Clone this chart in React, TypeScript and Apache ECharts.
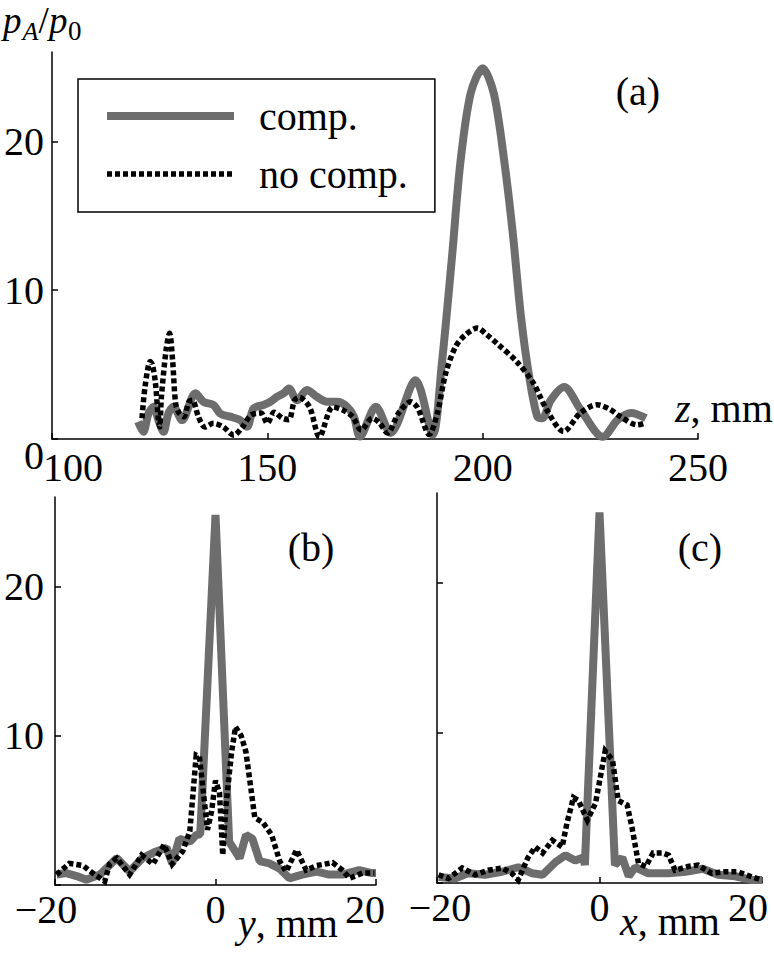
import React, { useEffect, useRef } from "react";
import * as echarts from "echarts";

const FONT = "'Liberation Serif', 'Times New Roman', serif";
const GRAY = "#6d6d6d";
const BLACK = "#000000";

// ---- panel (a): p_A/p0 along z, mm
const aCompZ = [120.0, 121.2, 122.4, 123.6, 124.7, 125.9, 127.0, 128.2, 130.2, 133.3, 135.2, 137.5, 139.1, 141.4, 143.7, 145.3, 146.8, 149.1, 150.7, 152.3, 153.8, 155.0, 156.9, 159.2, 161.5, 163.9, 166.2, 168.5, 170.1, 171.5, 175.2, 178.6, 184.4, 188.4, 190.5, 192.9, 194.8, 197.2, 200.0, 202.6, 205.0, 207.0, 208.9, 210.8, 212.7, 213.9, 215.8, 218.9, 222.8, 227.9, 231.4, 234.5, 237.9];
const aCompP = [1.16, 0.49, 1.7, 2.17, 1.27, 0.49, 1.7, 2.17, 1.27, 3.07, 2.5, 2.28, 1.7, 1.5, 1.27, 0.82, 2.06, 2.28, 2.5, 2.84, 3.07, 3.4, 2.6, 3.3, 2.84, 2.5, 2.5, 2.17, 1.5, 0.16, 2.17, 0.4, 3.95, 0.3, 5.0, 12.3, 18.5, 23.2, 24.9, 23.2, 18.7, 13.8, 8.2, 4.2, 1.5, 1.4, 2.6, 3.5, 1.95, 0.15, 1.3, 1.75, 1.4];
const aNoCompZ = [120.9, 121.6, 122.8, 123.3, 124.0, 124.7, 125.0, 125.4, 126.5, 127.3, 128.0, 128.7, 129.5, 130.6, 131.8, 132.6, 134.0, 135.5, 137.5, 139.8, 142.2, 144.2, 146.2, 148.5, 150.0, 151.6, 153.5, 155.0, 156.3, 157.4, 159.8, 162.1, 165.2, 167.5, 169.8, 171.8, 174.4, 176.0, 177.9, 180.5, 183.3, 184.9, 187.6, 189.5, 191.4, 193.7, 196.0, 198.8, 201.0, 203.4, 207.9, 211.8, 214.9, 218.8, 222.7, 226.6, 229.5, 232.0, 235.9, 237.4];
const aNoCompP = [1.4, 3.5, 5.2, 5.0, 3.8, 1.3, 0.8, 2.8, 6.0, 7.1, 5.3, 2.4, 1.75, 1.5, 2.5, 2.6, 1.5, 0.8, 1.05, 0.8, 0.25, 0.8, 1.6, 1.75, 1.05, 1.8, 1.4, 1.3, 2.6, 2.8, 2.15, 0.15, 2.15, 1.95, 1.5, 0.6, 1.4, 1.1, 0.4, 1.75, 2.5, 2.1, 0.3, 1.75, 4.4, 6.2, 7.0, 7.45, 7.0, 6.4, 5.2, 3.75, 1.95, 0.5, 1.75, 2.3, 2.0, 1.5, 0.95, 1.05];

// ---- panel (b): along y, mm
const bCompY = [-19.8, -18.6, -17.3, -16.1, -14.4, -12.3, -10.7, -9.1, -7.4, -6.1, -5.4, -4.5, -3.2, -2.4, -1.9, 0.0, 1.7, 3.0, 3.8, 4.6, 5.5, 6.7, 8.0, 9.2, 10.8, 12.6, 14.2, 15.8, 17.9, 19.5, 20.0];
const bCompP = [0.7, 0.8, 0.6, 0.35, 0.7, 1.8, 0.9, 1.8, 2.25, 2.5, 1.45, 3.1, 2.9, 3.35, 3.4, 24.8, 2.9, 1.8, 3.35, 3.1, 1.6, 1.45, 1.1, 0.45, 0.7, 0.9, 0.7, 0.7, 1.0, 0.8, 0.8];
const bNoCompY = [-19.8, -18.2, -16.5, -15.3, -13.8, -13.2, -12.3, -10.7, -9.2, -7.8, -6.4, -5.4, -4.1, -3.2, -2.4, -2.0, -1.0, -0.5, 0.0, 0.5, 0.9, 1.3, 2.0, 2.5, 3.2, 3.8, 4.9, 5.9, 7.0, 8.0, 8.8, 10.1, 11.3, 12.6, 14.6, 15.8, 16.7, 18.3, 19.8];
const bNoCompP = [0.7, 1.45, 1.3, 0.8, 0.25, 1.4, 1.8, 0.7, 2.0, 1.4, 2.7, 1.4, 2.25, 3.6, 8.7, 8.6, 3.7, 4.9, 7.0, 6.2, 2.0, 5.3, 8.9, 10.6, 10.0, 8.9, 4.5, 4.2, 3.35, 1.6, 0.9, 2.35, 1.0, 1.3, 1.5, 1.0, 0.45, 0.8, 0.8];

// ---- panel (c): along x, mm
const cCompX = [-19.8, -17.8, -16.2, -14.1, -12.0, -10.0, -8.3, -7.0, -5.4, -4.2, -3.0, -2.0, -1.8, 0.0, 1.9, 2.8, 3.6, 4.4, 6.0, 8.5, 10.6, 12.7, 14.6, 16.7, 18.8, 20.0];
const cCompP = [0.4, 0.3, 0.65, 0.55, 0.75, 1.05, 0.65, 0.55, 1.4, 1.85, 1.5, 1.7, 1.2, 24.7, 1.2, 1.7, 0.45, 1.05, 0.65, 0.65, 0.75, 0.95, 0.55, 0.45, 0.2, 0.2];
const cNoCompX = [-19.8, -18.6, -16.9, -15.3, -13.7, -12.0, -10.8, -10.0, -8.8, -7.9, -7.0, -5.8, -4.6, -4.0, -3.2, -2.6, -1.5, -0.5, 0.7, 1.6, 2.3, 3.4, 4.0, 4.8, 5.7, 6.6, 7.8, 8.5, 9.3, 10.9, 12.1, 13.8, 15.4, 17.0, 18.8, 20.0];
const cNoCompP = [0.55, 0.3, 1.0, 0.55, 0.85, 1.0, 0.65, 0.2, 1.7, 2.4, 2.0, 2.85, 2.4, 4.0, 5.7, 5.5, 4.2, 5.3, 8.8, 8.2, 5.5, 5.2, 3.7, 1.3, 1.1, 2.0, 2.0, 1.85, 0.85, 1.1, 1.2, 0.65, 0.75, 0.75, 0.4, 0.2];

// ---- tick values
const aXTicks = [100, 150, 200, 250];
const aYLabels = [0, 10, 20];
const bYLabels = [10, 20];
const yTicks = [0, 10, 20];
const bcXTicks = [-20, 0, 20];

const pairs = (xs: number[], ys: number[]) => xs.map((x, i) => [x, ys[i]]);
const fmt = (v: number) => (v < 0 ? "\u2212" + Math.abs(v) : String(v));

const axisLineStyle = { color: BLACK, width: 1.5 };
const labelBase = { fontFamily: FONT, fontSize: 40, color: BLACK };

function yAxisCfg(grid: number, labels: number[], margin: number) {
  return {
    type: "value",
    gridIndex: grid,
    min: 0,
    max: 26,
    interval: 10,
    axisLine: { show: true, onZero: false, lineStyle: axisLineStyle },
    axisTick: { show: true, inside: true, length: 6, lineStyle: axisLineStyle, customValues: yTicks },
    splitLine: { show: false },
    axisLabel: {
      show: labels.length > 0,
      ...labelBase,
      margin,
      customValues: labels.length ? labels : yTicks,
      formatter: (v: number) => (grid === 0 && v === 0 ? "{zero|0}" : String(v)),
      rich: { zero: { ...labelBase, padding: [32, 0, 0, 0] } },
    },
  };
}

function lineSeries(name: string, xi: number, data: number[][], join: string, smooth: number) {
  const comp = name === "comp.";
  return {
    name,
    type: "line",
    xAxisIndex: xi,
    yAxisIndex: xi,
    data,
    symbol: "none",
    showSymbol: false,
    smooth,
    clip: false,
    silent: true,
    z: comp ? 2 : 3,
    itemStyle: { color: comp ? GRAY : BLACK },
    lineStyle: comp
      ? { color: GRAY, width: 8, join, cap: "butt" }
      : { color: BLACK, width: 5.5, type: [5, 3], cap: "butt", join: "miter" },
    emphasis: { disabled: true },
  };
}

function text(x: number, y: number, t: string, align = "left", extra: any = {}) {
  return {
    type: "text",
    x,
    y,
    silent: true,
    style: {
      text: t,
      fontFamily: FONT,
      fontSize: 40,
      fill: BLACK,
      align,
      verticalAlign: "middle",
      ...extra,
    },
  };
}

export default function App() {
  const ref = useRef<HTMLDivElement>(null);

  useEffect(() => {
    if (!ref.current) return;
    const chart = echarts.init(ref.current, undefined, { renderer: "svg" });
    const italicRich = { i: { fontFamily: FONT, fontSize: 40, fontStyle: "italic", fill: BLACK } };
    const option: any = {
      animation: false,
      backgroundColor: "#ffffff",
      textStyle: { fontFamily: FONT },
      grid: [
        { left: 52, top: 52, width: 646, height: 387 },
        { left: 55, top: 497, width: 321, height: 388 },
        { left: 437, top: 493, width: 325, height: 390 },
      ],
      xAxis: [
        {
          type: "value",
          gridIndex: 0,
          min: 100,
          max: 250,
          interval: 50,
          axisLine: { show: true, onZero: false, lineStyle: axisLineStyle },
          axisTick: { show: true, inside: true, length: 6, lineStyle: axisLineStyle, customValues: aXTicks },
          splitLine: { show: false },
          axisLabel: {
            ...labelBase,
            margin: 8,
            customValues: aXTicks,
            formatter: (v: number) => (v === 100 ? "{first|100}" : String(v)),
            rich: { first: { ...labelBase, padding: [0, 0, 0, 42] } },
          },
        },
        {
          type: "value",
          gridIndex: 1,
          min: -20,
          max: 20,
          interval: 20,
          axisLine: { show: true, onZero: false, lineStyle: axisLineStyle },
          axisTick: { show: true, inside: true, length: 6, lineStyle: axisLineStyle, customValues: bcXTicks },
          splitLine: { show: false },
          axisLabel: {
            ...labelBase,
            margin: 4,
            customValues: bcXTicks,
            formatter: (v: number) => (v === -20 ? "{l|" + fmt(v) + "}" : v === 20 ? "{r|20}" : fmt(v)),
            rich: { l: { ...labelBase, padding: [0, 18, 0, 0] }, r: { ...labelBase, padding: [0, 22, 0, 0] } },
          },
        },
        {
          type: "value",
          gridIndex: 2,
          min: -20,
          max: 20,
          interval: 20,
          axisLine: { show: true, onZero: false, lineStyle: axisLineStyle },
          axisTick: { show: true, inside: true, length: 6, lineStyle: axisLineStyle, customValues: bcXTicks },
          splitLine: { show: false },
          axisLabel: {
            ...labelBase,
            margin: 4,
            customValues: bcXTicks,
            formatter: (v: number) => (v === -20 ? "{l|" + fmt(v) + "}" : v === 20 ? "{r|20}" : fmt(v)),
            rich: { l: { ...labelBase, padding: [0, 0, 0, 6] }, r: { ...labelBase, padding: [0, 28, 0, 0] } },
          },
        },
      ],
      yAxis: [yAxisCfg(0, aYLabels, 8), yAxisCfg(1, bYLabels, 11), yAxisCfg(2, [], 8)],
      legend: {
        data: [
          { name: "comp.", itemStyle: { opacity: 0 }, lineStyle: { color: GRAY, width: 8, type: "solid", cap: "butt" } },
          { name: "no comp.", itemStyle: { opacity: 0 }, lineStyle: { color: BLACK, width: 5.5, type: [5, 3], cap: "butt" } },
        ],
        orient: "vertical",
        left: 78,
        top: 79,
        padding: [17, 27, 18, 25],
        itemGap: 18,
        itemWidth: 127,
        itemHeight: 20,
        borderColor: BLACK,
        borderWidth: 1.5,
        selectedMode: false,
        textStyle: { ...labelBase, lineHeight: 40, padding: [0, 0, 0, 20] },
      },
      series: [
        lineSeries("comp.", 0, pairs(aCompZ, aCompP), "round", 0.3),
        lineSeries("no comp.", 0, pairs(aNoCompZ, aNoCompP), "miter", 0.3),
        lineSeries("comp.", 1, pairs(bCompY, bCompP), "bevel", 0),
        lineSeries("no comp.", 1, pairs(bNoCompY, bNoCompP), "miter", 0),
        lineSeries("comp.", 2, pairs(cCompX, cCompP), "bevel", 0),
        lineSeries("no comp.", 2, pairs(cNoCompX, cNoCompP), "miter", 0),
      ],
      graphic: [
        // y-axis title p_A / p_0
        text(3, 20.5, "p", "left", { fontStyle: "italic", fontSize: 37, lineHeight: 34 }),
        text(22.5, 31, "A", "left", { fontStyle: "italic", fontSize: 26, lineHeight: 22 }),
        text(38.5, 20.5, "/", "left", { fontSize: 37, lineHeight: 34 }),
        text(49, 20.5, "p", "left", { fontStyle: "italic", fontSize: 37, lineHeight: 34 }),
        text(68, 31, "0", "left", { fontSize: 27, lineHeight: 22 }),
        // panel labels
        text(638, 91.5, "(a)", "center"),
        text(311, 547.5, "(b)", "center"),
        text(700, 547, "(c)", "center"),
        // axis names
        text(675, 408.5, "{i|z}, mm", "left", { rich: italicRich }),
        text(238, 923, "{i|y}, mm", "left", { rich: italicRich }),
        text(620, 921, "{i|x}, mm", "left", { rich: italicRich }),
      ],
    };
    chart.setOption(option);
    return () => chart.dispose();
  }, []);

  return (
    <div
      ref={ref}
      style={{ position: "fixed", left: 0, top: 0, width: 774, height: 953, background: "#fff" }}
    />
  );
}
